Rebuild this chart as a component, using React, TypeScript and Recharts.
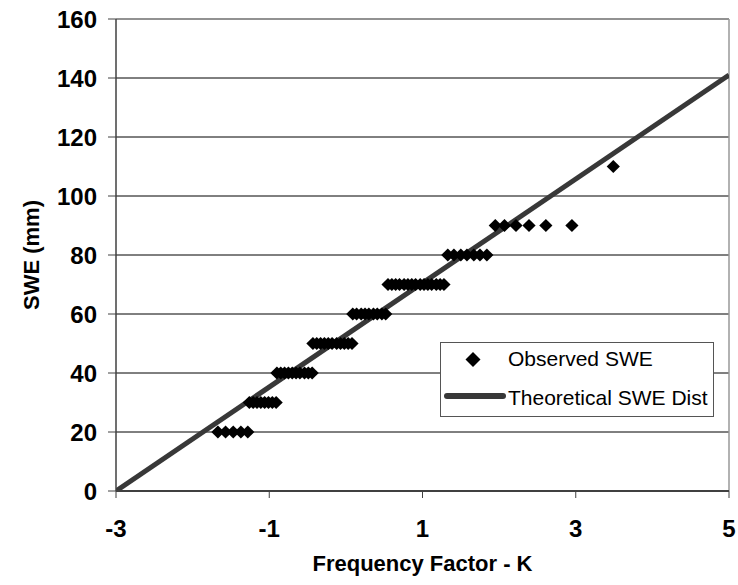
import React from 'react';
import {
  ComposedChart,
  Scatter,
  Line,
  XAxis,
  YAxis,
  CartesianGrid,
  ReferenceLine,
  Legend,
} from 'recharts';

// observed SWE, grouped by level (mm) with the frequency factor K of each point
const obsK20 = [-1.67, -1.57, -1.47, -1.37, -1.28];
const obsK30 = [-1.26, -1.21, -1.16, -1.11, -1.06, -1.01, -0.96, -0.91];
const obsK40 = [-0.9, -0.85, -0.8, -0.75, -0.7, -0.65, -0.6, -0.54, -0.49, -0.44];
const obsK50 = [-0.43, -0.38, -0.33, -0.28, -0.23, -0.18, -0.12, -0.07, -0.02, 0.03, 0.08];
const obsK60 = [0.09, 0.14, 0.2, 0.25, 0.3, 0.36, 0.41, 0.47, 0.52];
const obsK70 = [0.55, 0.6, 0.65, 0.7, 0.76, 0.81, 0.86, 0.91, 0.97, 1.02, 1.07, 1.12, 1.18, 1.23, 1.28];
const obsK80 = [1.33, 1.41, 1.5, 1.58, 1.67, 1.75, 1.84];
const obsK90 = [1.95, 2.07, 2.22, 2.39, 2.61, 2.95];
const obsK110 = [3.49];

const levels = [20, 30, 40, 50, 60, 70, 80, 90, 110];
const levelK = [obsK20, obsK30, obsK40, obsK50, obsK60, obsK70, obsK80, obsK90, obsK110];

// theoretical distribution line end points
const lineK = [-3, 5];
const lineSwe = [0, 141];

const xTicks = [-3, -1, 1, 3, 5];
const yTicks = [0, 20, 40, 60, 80, 100, 120, 140, 160];

const observed = levels.flatMap((swe, i) => levelK[i].map((k) => ({ k, swe })));
const theoretical = lineK.map((k, i) => ({ k, swe: lineSwe[i] }));

const FONT = '"Liberation Sans", Arial, sans-serif';

const Diamond = (props: any) => {
  const { cx, cy } = props;
  const r = 6.6;
  return <polygon points={`${cx},${cy - r} ${cx + r},${cy} ${cx},${cy + r} ${cx - r},${cy}`} fill="#000" />;
};

const renderLegend = () => (
  <div style={{ width: 274, height: 75, boxSizing: 'border-box', border: '1px solid #555', background: '#fff' }}>
    <svg width={272} height={73} style={{ display: 'block' }}>
      <polygon points="32,9 39.5,16.5 32,24 24.5,16.5" fill="#000" />
      <text x={67} y={23} fontFamily={FONT} fontSize={21} fill="#000">Observed SWE</text>
      <line x1={6} x2={62} y1={53} y2={53} stroke="#383838" strokeWidth={6} strokeLinecap="round" />
      <text x={67} y={62} fontFamily={FONT} fontSize={21} fill="#000">Theoretical SWE Dist</text>
    </svg>
  </div>
);

const tickStyle = { fontSize: 24, fontWeight: 'bold', fill: '#000', fontFamily: FONT };

export default function App() {
  return (
    <div style={{ position: 'absolute', left: 0, top: 0, width: 738, height: 585, background: '#fff' }}>
      <ComposedChart width={738} height={585} margin={{ top: 19, right: 9, bottom: 0, left: 0 }}>
        <CartesianGrid vertical={false} stroke="#000" strokeWidth={1} />
        <ReferenceLine y={160} stroke="#999" strokeWidth={1.5} />
        <ReferenceLine x={5} stroke="#999" strokeWidth={1.5} />
        <XAxis
          type="number"
          dataKey="k"
          domain={[-3, 5]}
          ticks={xTicks}
          allowDataOverflow
          height={94}
          tickSize={7}
          tickMargin={22}
          tick={tickStyle}
          axisLine={{ stroke: '#404040', strokeWidth: 2 }}
          tickLine={{ stroke: '#404040' }}
          label={{
            content: ({ viewBox }: any) => (
              <text
                x={viewBox.x + viewBox.width / 2}
                y={viewBox.y + 80}
                textAnchor="middle"
                fontFamily={FONT}
                fontSize={22}
                fontWeight="bold"
                fill="#000"
              >
                Frequency Factor - K
              </text>
            ),
          }}
        />
        <YAxis
          type="number"
          dataKey="swe"
          domain={[0, 160]}
          ticks={yTicks}
          allowDataOverflow
          width={116}
          tickSize={8}
          tickMargin={11}
          tick={tickStyle}
          axisLine={{ stroke: '#404040', strokeWidth: 1.5 }}
          tickLine={{ stroke: '#404040' }}
          label={{
            content: ({ viewBox }: any) => {
              const cx = viewBox.x + 31;
              const cy = viewBox.y + viewBox.height / 2;
              return (
                <text
                  x={cx}
                  y={cy}
                  transform={`rotate(-90, ${cx}, ${cy})`}
                  textAnchor="middle"
                  dominantBaseline="central"
                  fontFamily={FONT}
                  fontSize={22}
                  fontWeight="bold"
                  fill="#000"
                >
                  SWE (mm)
                </text>
              );
            },
          }}
        />
        <Scatter data={observed} dataKey="swe" shape={<Diamond />} isAnimationActive={false} />
        <Line
          data={theoretical}
          dataKey="swe"
          type="linear"
          stroke="#383838"
          strokeWidth={5}
          dot={false}
          activeDot={false}
          isAnimationActive={false}
        />
        <Legend
          layout="horizontal"
          verticalAlign="middle"
          align="center"
          content={renderLegend}
          wrapperStyle={{ left: 440, top: 342, width: 274, height: 75 }}
        />
      </ComposedChart>
    </div>
  );
}
